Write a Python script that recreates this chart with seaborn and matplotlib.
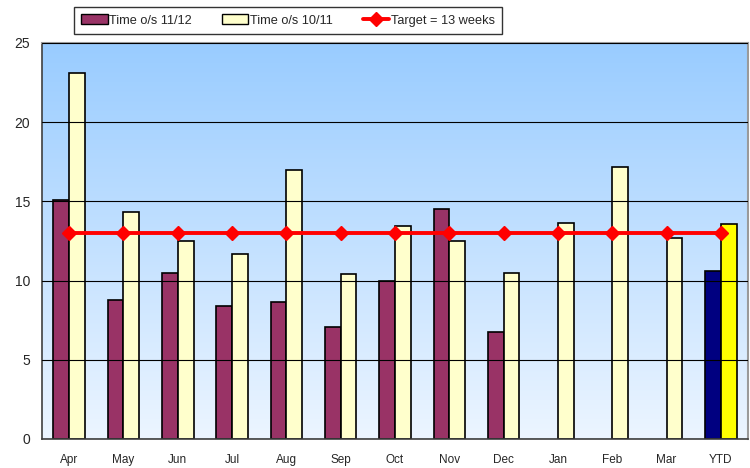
import numpy as np
import pandas as pd
import seaborn as sns
import matplotlib.pyplot as plt
from matplotlib.patches import Patch
from matplotlib.lines import Line2D

months = ['Apr', 'May', 'Jun', 'Jul', 'Aug', 'Sep', 'Oct', 'Nov', 'Dec',
          'Jan', 'Feb', 'Mar', 'YTD']
time_1112 = [15.1, 8.8, 10.5, 8.4, 8.65, 7.05, 10.0, 14.5, 6.75,
             np.nan, np.nan, np.nan, 10.6]
time_1011 = [23.1, 14.3, 12.5, 11.7, 17.0, 10.4, 13.45, 12.5, 10.5,
             13.65, 17.2, 12.7, 13.6]
target = [13] * len(months)

series = ['Time o/s 11/12', 'Time o/s 10/11']
df = pd.DataFrame({
    'month': months * 2,
    'value': time_1112 + time_1011,
    'series': [series[0]] * len(months) + [series[1]] * len(months),
})

sns.set_style('white')
plt.rcParams['font.family'] = ['Liberation Sans', 'DejaVu Sans']

fig = plt.figure(figsize=(7.5, 4.68), dpi=100)
ax = fig.add_axes([42 / 750, 29 / 468, 706 / 750, 396 / 468])

# gradient background
grad = np.linspace(0, 1, 256).reshape(-1, 1)
top = np.array([0x99, 0xCC, 0xFF]) / 255
bottom = np.array([0xEC, 0xF5, 0xFF]) / 255
img = bottom + (top - bottom) * grad
ax.imshow(img[:, None, :].repeat(2, axis=1), extent=[-0.5, 12.5, 0, 25],
          origin='lower', aspect='auto', zorder=0)

sns.barplot(data=df, x='month', y='value', hue='series', order=months,
            palette=['#993366', '#FFFFCC'], saturation=1, width=0.58, gap=0,
            edgecolor='black', linewidth=1.2, legend=False, ax=ax, zorder=2)

# YTD bars in their own colours
for cont, col in zip(ax.containers, ['#000080', '#FFFF00']):
    cont.patches[-1].set_facecolor(col)

ax.plot(range(len(months)), target, color='red', lw=2.8, marker='D',
        markersize=7, zorder=4)

ax.set_xlim(-0.5, 12.5)
ax.set_ylim(0, 25)
ax.set_yticks([0, 5, 10, 15, 20, 25])
ax.yaxis.grid(True, color='black', lw=0.8)
ax.set_axisbelow(False)
for ln in ax.get_ygridlines():
    ln.set_zorder(1)
ax.set_xlabel('')
ax.set_ylabel('')

ax.set_xticks(range(len(months)))
ax.set_xticklabels(months)
ax.set_xticks(np.arange(-0.5, 13, 1), minor=True)
ax.tick_params(axis='x', which='major', length=0, pad=11, labelsize=8.5)
ax.tick_params(axis='x', which='minor', length=5, direction='out',
               color='#404040', width=1)
ax.tick_params(axis='y', length=5, direction='out', color='#404040',
               labelsize=10)

for side in ['left', 'bottom']:
    ax.spines[side].set_color('#404040')
    ax.spines[side].set_linewidth(1.2)
for side in ['top', 'right']:
    ax.spines[side].set_color('#9a9a9a')
    ax.spines[side].set_linewidth(1.5)

handles = [Patch(facecolor='#993366', edgecolor='black', label=series[0]),
           Patch(facecolor='#FFFFCC', edgecolor='black', label=series[1]),
           Line2D([0], [0], color='red', lw=2.8, marker='D', markersize=7,
                  label='Target = 13 weeks')]
leg = fig.legend(handles=handles, loc='center', ncol=3,
                 bbox_to_anchor=(288 / 750, 1 - 20.5 / 468), frameon=True,
                 fancybox=False, edgecolor='black', fontsize=9.2,
                 handlelength=2.1, handleheight=0.75, columnspacing=2.3,
                 handletextpad=0.15, borderpad=0.55)
leg.get_frame().set_linewidth(1)

fig.savefig('out.png', dpi=100)
